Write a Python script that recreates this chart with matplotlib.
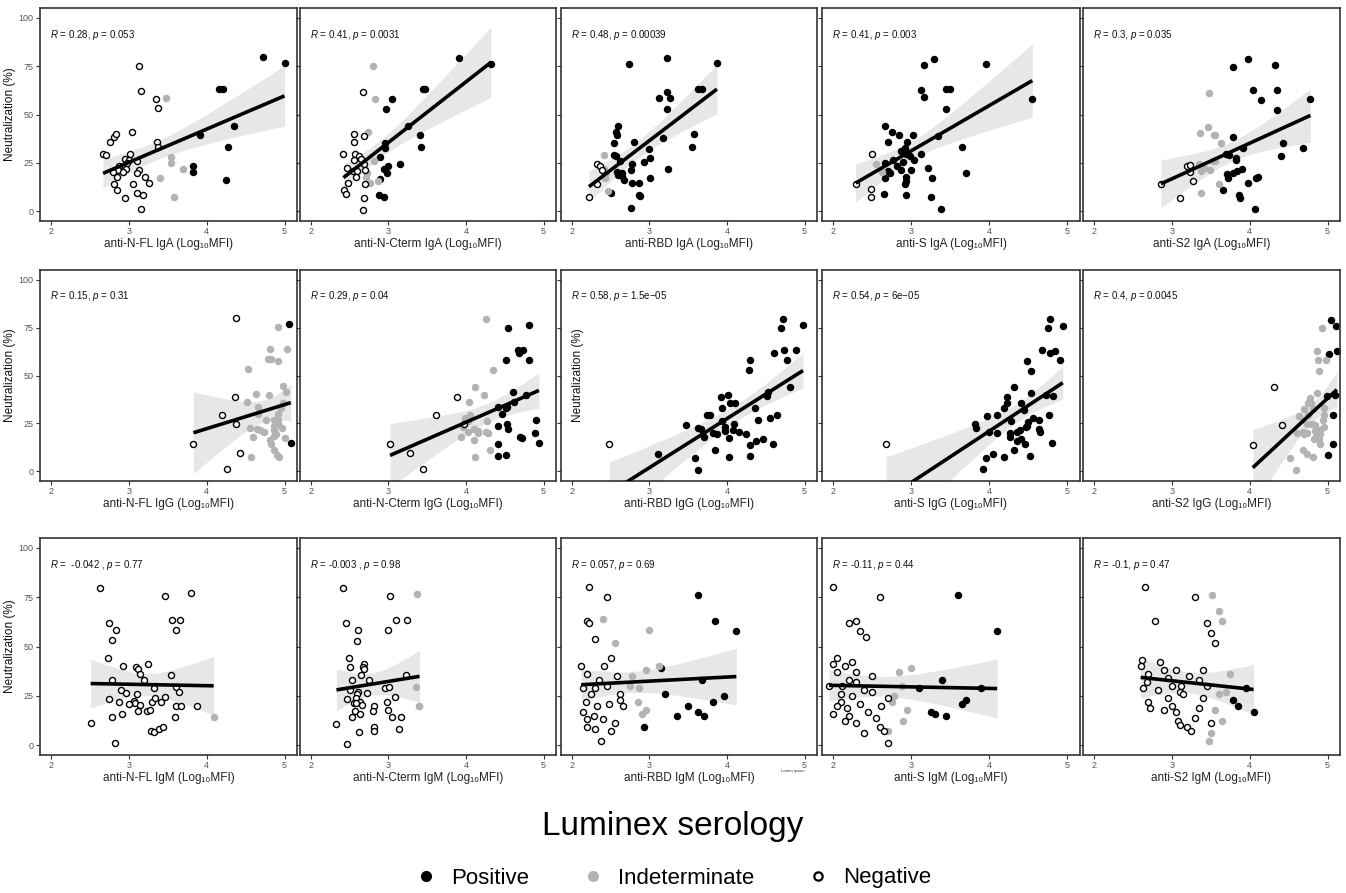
import numpy as np
import matplotlib
matplotlib.use("Agg")
import matplotlib.pyplot as plt
from matplotlib.lines import Line2D

plt.rcParams['font.family'] = ['Liberation Sans', 'DejaVu Sans']
plt.rcParams['mathtext.fontset'] = 'custom'
plt.rcParams['mathtext.rm'] = 'Liberation Sans'
plt.rcParams['mathtext.it'] = 'Liberation Sans:italic'

# ---- data: (log10 MFI, neutralization %, status)  P=positive, I=indeterminate, N=negative ----
nfl_iga = [
    (2.67, 29.8, 'N'), (2.71, 29.1, 'N'), (2.76, 35.9, 'N'), (2.81, 38.6, 'N'), (2.84, 40.0, 'N'),
    (3.13, 75.2, 'N'), (3.16, 61.9, 'N'), (3.04, 41.2, 'N'), (3.35, 58.2, 'N'), (3.37, 53.1, 'N'),
    (3.36, 35.7, 'N'), (3.38, 33.0, 'N'), (3.01, 29.6, 'N'), (2.95, 26.9, 'N'), (3.00, 26.7, 'N'),
    (3.10, 26.0, 'N'), (2.98, 24.7, 'N'), (2.88, 23.5, 'N'), (2.86, 21.4, 'N'), (2.96, 21.8, 'N'),
    (2.93, 20.4, 'N'), (3.13, 21.3, 'N'), (3.11, 19.9, 'N'), (2.80, 20.1, 'N'), (2.85, 17.5, 'N'),
    (3.21, 17.9, 'N'), (3.26, 14.8, 'N'), (3.06, 14.3, 'N'), (2.81, 14.3, 'N'), (2.85, 11.1, 'N'),
    (3.11, 9.4, 'N'), (3.18, 8.3, 'N'), (2.95, 7.0, 'N'), (3.16, 1.0, 'N'),
    (3.48, 58.3, 'I'), (3.54, 28.2, 'I'), (3.54, 24.7, 'I'), (3.70, 22.1, 'I'), (3.40, 17.2, 'I'),
    (3.58, 7.5, 'I'),
    (4.72, 79.6, 'P'), (5.00, 76.5, 'P'), (4.16, 63.4, 'P'), (4.21, 63.3, 'P'), (4.35, 44.0, 'P'),
    (3.92, 39.6, 'P'), (3.83, 23.6, 'P'), (3.82, 20.1, 'P'), (4.27, 33.2, 'P'), (4.25, 16.2, 'P'),
]
ncterm_iga = [
    (3.91, 79.2, 'P'), (4.32, 76.3, 'P'), (3.45, 63.1, 'P'), (3.47, 63.1, 'P'), (3.04, 58.0, 'P'),
    (2.97, 52.9, 'P'), (3.25, 43.9, 'P'), (3.41, 39.3, 'P'), (3.42, 33.1, 'P'), (2.95, 35.3, 'P'),
    (2.95, 32.9, 'P'), (2.89, 28.0, 'P'), (2.99, 23.6, 'P'), (3.15, 24.6, 'P'), (2.94, 21.9, 'P'),
    (2.98, 19.8, 'P'), (2.89, 16.9, 'P'), (2.88, 8.3, 'P'), (2.94, 7.5, 'P'),
    (2.80, 74.9, 'I'), (2.83, 58.0, 'I'), (2.74, 41.0, 'I'), (2.81, 25.9, 'I'), (2.72, 20.0, 'I'),
    (2.71, 17.8, 'I'), (2.86, 15.9, 'I'), (2.76, 14.4, 'I'),
    (2.67, 61.7, 'N'), (2.56, 39.8, 'N'), (2.68, 38.8, 'N'), (2.56, 35.9, 'N'), (2.42, 29.7, 'N'),
    (2.57, 29.7, 'N'), (2.62, 28.8, 'N'), (2.65, 26.8, 'N'), (2.56, 26.3, 'N'), (2.68, 24.2, 'N'),
    (2.47, 22.4, 'N'), (2.54, 20.7, 'N'), (2.60, 21.0, 'N'), (2.70, 21.5, 'N'), (2.58, 17.6, 'N'),
    (2.48, 14.4, 'N'), (2.43, 11.0, 'N'), (2.45, 9.2, 'N'), (2.70, 14.1, 'N'), (2.69, 6.9, 'N'),
    (2.67, 0.8, 'N'),
]
rbd_iga = [
    (3.23, 79.3, 'P'), (3.87, 76.4, 'P'), (2.74, 75.9, 'P'), (3.62, 63.2, 'P'), (3.68, 63.2, 'P'),
    (3.22, 61.7, 'P'), (3.12, 58.3, 'P'), (3.26, 58.3, 'P'), (3.23, 53.0, 'P'), (2.60, 44.0, 'P'),
    (2.57, 41.1, 'P'), (2.58, 39.6, 'P'), (2.54, 35.5, 'P'), (2.80, 35.7, 'P'), (3.57, 40.0, 'P'),
    (3.55, 33.2, 'P'), (3.17, 38.1, 'P'), (2.99, 32.2, 'P'), (3.01, 27.5, 'P'), (2.93, 25.6, 'P'),
    (2.62, 26.1, 'P'), (2.54, 29.0, 'P'), (2.57, 28.7, 'P'), (2.78, 24.3, 'P'), (2.65, 19.7, 'P'),
    (2.58, 20.2, 'P'), (2.59, 18.5, 'P'), (2.76, 21.4, 'P'), (3.24, 22.1, 'P'), (3.01, 17.4, 'P'),
    (2.64, 18.0, 'P'), (2.67, 16.4, 'P'), (2.78, 14.8, 'P'), (2.86, 14.5, 'P'), (2.51, 9.6, 'P'),
    (2.86, 8.6, 'P'), (2.88, 7.8, 'P'), (2.76, 1.5, 'P'),
    (2.42, 29.0, 'I'), (2.42, 21.9, 'I'), (2.43, 17.2, 'I'), (2.46, 10.6, 'I'), (2.44, 19.6, 'I'),
    (2.32, 24.3, 'N'), (2.36, 23.6, 'N'), (2.39, 21.4, 'N'), (2.33, 14.3, 'N'), (2.22, 7.4, 'N'),
]
s_iga = [
    (3.29, 78.8, 'P'), (3.96, 76.0, 'P'), (3.16, 75.6, 'P'), (3.13, 62.5, 'P'), (3.17, 58.8, 'P'),
    (3.45, 63.0, 'P'), (3.50, 63.0, 'P'), (4.55, 58.0, 'P'), (3.45, 52.8, 'P'), (2.66, 43.9, 'P'),
    (2.76, 40.8, 'P'), (2.85, 39.3, 'P'), (3.03, 39.5, 'P'), (2.71, 35.6, 'P'), (2.95, 35.8, 'P'),
    (3.35, 38.8, 'P'), (2.92, 32.8, 'P'), (3.65, 33.1, 'P'), (2.87, 31.4, 'P'), (2.93, 29.7, 'P'),
    (3.12, 29.6, 'P'), (2.99, 28.4, 'P'), (2.77, 26.7, 'P'), (2.89, 25.5, 'P'), (3.04, 26.6, 'P'),
    (2.67, 24.7, 'P'), (2.82, 23.4, 'P'), (3.21, 22.2, 'P'), (2.70, 21.0, 'P'), (3.00, 21.3, 'P'),
    (2.73, 19.8, 'P'), (2.87, 21.5, 'P'), (3.70, 20.0, 'P'), (2.66, 17.3, 'P'), (2.94, 17.5, 'P'),
    (3.27, 17.1, 'P'), (2.94, 15.8, 'P'), (2.92, 14.3, 'P'), (2.65, 9.2, 'P'), (2.93, 8.4, 'P'),
    (3.26, 7.6, 'P'), (3.38, 1.2, 'P'),
    (2.55, 24.4, 'I'), (2.63, 20.5, 'I'),
    (2.50, 29.7, 'N'), (2.29, 14.3, 'N'), (2.49, 11.3, 'N'), (2.49, 7.2, 'N'),
]
s2_iga = [
    (3.98, 78.8, 'P'), (3.78, 74.4, 'P'), (4.33, 75.5, 'P'), (4.04, 62.7, 'P'), (4.35, 62.7, 'P'),
    (4.14, 57.7, 'P'), (4.78, 57.8, 'P'), (4.35, 52.4, 'P'), (3.78, 38.4, 'P'), (4.43, 35.2, 'P'),
    (4.69, 32.7, 'P'), (4.40, 28.8, 'P'), (3.91, 32.5, 'P'), (3.69, 29.5, 'P'), (3.73, 29.2, 'P'),
    (3.82, 27.5, 'P'), (3.82, 26.3, 'P'), (3.90, 21.8, 'P'), (3.78, 19.6, 'P'), (3.84, 20.9, 'P'),
    (3.71, 19.4, 'P'), (3.72, 17.2, 'P'), (3.98, 14.5, 'P'), (4.08, 17.4, 'P'), (4.11, 17.7, 'P'),
    (3.66, 11.0, 'P'), (3.86, 8.3, 'P'), (3.87, 7.1, 'P'), (4.07, 1.0, 'P'),
    (3.48, 61.2, 'I'), (3.46, 43.8, 'I'), (3.36, 40.6, 'I'), (3.54, 39.3, 'I'), (3.56, 39.3, 'I'),
    (3.63, 35.4, 'I'), (3.35, 24.5, 'I'), (3.37, 20.6, 'I'), (3.49, 21.4, 'I'), (3.42, 22.4, 'I'),
    (3.53, 26.0, 'I'), (3.55, 26.0, 'I'), (3.61, 14.0, 'I'), (3.37, 9.3, 'I'),
    (3.20, 23.4, 'N'), (3.23, 24.1, 'N'), (3.24, 20.1, 'N'), (3.27, 15.9, 'N'), (2.86, 14.0, 'N'),
    (3.10, 6.9, 'N'),
]
nfl_igg = [
    (4.38, 79.9, 'N'), (4.36, 39.0, 'N'), (4.20, 29.5, 'N'), (4.38, 24.7, 'N'), (3.83, 14.5, 'N'),
    (4.43, 9.5, 'N'), (4.26, 1.2, 'N'),
    (5.06, 76.8, 'P'), (5.08, 15.0, 'P'),
    (4.91, 75.5, 'I'), (4.81, 63.7, 'I'), (5.03, 63.7, 'I'), (4.79, 58.6, 'I'), (4.82, 58.6, 'I'),
    (4.91, 57.4, 'I'), (4.53, 53.3, 'I'), (4.98, 44.6, 'I'), (5.02, 41.6, 'I'), (4.63, 40.4, 'I'),
    (4.80, 40.0, 'I'), (4.52, 36.3, 'I'), (4.98, 35.8, 'I'), (4.96, 33.2, 'I'), (4.91, 29.8, 'I'),
    (4.66, 30.0, 'I'), (4.76, 26.9, 'I'), (4.86, 26.6, 'I'), (4.92, 26.9, 'I'), (4.56, 22.7, 'I'),
    (4.65, 22.0, 'I'), (4.69, 21.8, 'I'), (4.74, 20.4, 'I'), (4.86, 23.9, 'I'), (4.86, 21.8, 'I'),
    (4.89, 19.4, 'I'), (4.97, 22.7, 'I'), (4.92, 24.7, 'I'), (4.86, 18.4, 'I'), (4.81, 16.5, 'I'),
    (4.59, 17.9, 'I'), (5.01, 17.5, 'I'), (4.83, 14.5, 'I'), (4.87, 11.4, 'I'), (4.57, 7.5, 'I'),
    (4.90, 8.5, 'I'), (4.93, 7.7, 'I'), (4.66, 33.6, 'I'),
]
ncterm_igg = [
    (3.02, 14.5, 'N'), (3.28, 9.5, 'N'), (3.45, 1.2, 'N'), (3.61, 29.2, 'N'), (3.88, 38.7, 'N'),
    (3.97, 24.8, 'N'),
    (4.26, 79.2, 'I'), (4.35, 52.9, 'I'), (4.12, 44.1, 'I'), (4.23, 40.0, 'I'), (4.04, 36.0, 'I'),
    (4.05, 29.6, 'I'), (3.99, 28.0, 'I'), (4.02, 26.5, 'I'), (4.27, 26.4, 'I'), (3.96, 23.0, 'I'),
    (4.03, 20.8, 'I'), (4.10, 22.0, 'I'), (4.16, 21.3, 'I'), (4.15, 19.9, 'I'), (4.26, 20.3, 'I'),
    (4.28, 20.1, 'I'), (3.94, 18.1, 'I'), (4.10, 16.2, 'I'), (4.31, 11.3, 'I'), (4.12, 7.4, 'I'),
    (4.54, 74.8, 'P'), (4.81, 76.2, 'P'), (4.67, 63.3, 'P'), (4.74, 63.2, 'P'), (4.68, 61.5, 'P'),
    (4.51, 58.1, 'P'), (4.81, 58.1, 'P'), (4.60, 41.2, 'P'), (4.77, 39.7, 'P'), (4.62, 36.0, 'P'),
    (4.53, 33.4, 'P'), (4.52, 32.9, 'P'), (4.46, 29.7, 'P'), (4.90, 27.0, 'P'), (4.53, 24.7, 'P'),
    (4.41, 23.6, 'P'), (4.54, 22.3, 'P'), (4.89, 20.1, 'P'), (4.69, 17.9, 'P'), (4.72, 17.6, 'P'),
    (4.94, 14.9, 'P'), (4.41, 14.4, 'P'), (4.41, 7.8, 'P'), (4.51, 8.6, 'P'), (4.41, 33.8, 'P'),
]
rbd_igg = [
    (2.48, 14.2, 'N'),
    (4.72, 79.4, 'P'), (4.69, 75.0, 'P'), (4.98, 76.4, 'P'), (4.74, 63.3, 'P'), (4.89, 63.2, 'P'),
    (4.61, 61.7, 'P'), (4.77, 58.1, 'P'), (4.30, 58.1, 'P'), (4.28, 52.9, 'P'), (4.81, 43.9, 'P'),
    (4.53, 41.4, 'P'), (4.51, 39.5, 'P'), (3.92, 38.7, 'P'), (4.01, 39.9, 'P'), (4.04, 35.8, 'P'),
    (4.10, 35.5, 'P'), (3.93, 32.9, 'P'), (4.36, 32.8, 'P'), (4.64, 29.6, 'P'), (4.56, 27.9, 'P'),
    (3.74, 29.2, 'P'), (3.78, 29.4, 'P'), (4.40, 26.7, 'P'), (3.94, 26.2, 'P'), (4.09, 24.5, 'P'),
    (3.47, 24.2, 'P'), (3.97, 23.3, 'P'), (3.62, 22.6, 'P'), (3.66, 22.0, 'P'), (4.08, 21.8, 'P'),
    (3.98, 21.1, 'P'), (4.15, 20.6, 'P'), (3.82, 19.9, 'P'), (3.87, 19.6, 'P'), (4.25, 19.6, 'P'),
    (3.70, 17.7, 'P'), (4.02, 17.4, 'P'), (4.47, 17.1, 'P'), (4.37, 16.0, 'P'), (4.29, 14.0, 'P'),
    (4.59, 14.5, 'P'), (3.11, 9.1, 'P'), (3.85, 11.1, 'P'), (3.59, 6.9, 'P'), (4.02, 7.4, 'P'),
    (4.30, 8.1, 'P'), (3.63, 0.8, 'P'),
]
s_igg = [
    (2.68, 14.4, 'N'),
    (4.78, 79.2, 'P'), (4.75, 74.6, 'P'), (4.94, 75.9, 'P'), (4.67, 63.1, 'P'), (4.84, 62.9, 'P'),
    (4.78, 61.5, 'P'), (4.48, 57.8, 'P'), (4.90, 58.0, 'P'), (4.53, 52.5, 'P'), (4.32, 43.9, 'P'),
    (4.53, 41.0, 'P'), (4.23, 38.6, 'P'), (4.41, 35.6, 'P'), (4.22, 35.8, 'P'), (4.19, 33.1, 'P'),
    (4.72, 40.0, 'P'), (4.81, 39.2, 'P'), (4.44, 32.2, 'P'), (3.97, 29.0, 'P'), (4.10, 29.5, 'P'),
    (4.28, 26.4, 'P'), (4.56, 28.0, 'P'), (4.63, 26.9, 'P'), (4.49, 25.9, 'P'), (3.82, 24.6, 'P'),
    (3.83, 22.5, 'P'), (4.76, 29.5, 'P'), (4.48, 23.7, 'P'), (4.47, 23.1, 'P'), (4.64, 22.2, 'P'),
    (4.65, 20.3, 'P'), (4.10, 19.8, 'P'), (4.26, 20.0, 'P'), (4.39, 21.4, 'P'), (4.35, 20.8, 'P'),
    (4.26, 17.8, 'P'), (4.35, 16.1, 'P'), (4.41, 17.1, 'P'), (4.46, 14.1, 'P'), (4.80, 14.6, 'P'),
    (4.31, 11.0, 'P'), (4.05, 9.2, 'P'), (3.96, 7.1, 'P'), (4.19, 7.5, 'P'), (4.52, 8.1, 'P'),
    (3.92, 1.0, 'P'), (4.00, 20.7, 'P'),
]
s2_igg = [
    (4.04, 14.0, 'N'), (4.31, 43.8, 'N'), (4.42, 24.2, 'N'),
    (5.05, 79.1, 'P'), (5.11, 75.8, 'P'), (5.12, 62.7, 'P'), (5.02, 61.1, 'P'), (4.99, 39.2, 'P'),
    (5.10, 39.9, 'P'), (5.07, 29.2, 'P'), (5.07, 14.5, 'P'), (5.01, 8.3, 'P'),
    (4.93, 74.7, 'I'), (4.86, 63.0, 'I'), (4.88, 57.9, 'I'), (4.98, 57.9, 'I'), (4.89, 52.5, 'I'),
    (4.86, 40.9, 'I'), (4.78, 38.3, 'I'), (4.75, 35.5, 'I'), (4.79, 35.5, 'I'), (4.70, 32.6, 'I'),
    (4.81, 32.6, 'I'), (4.63, 29.1, 'I'), (4.75, 29.2, 'I'), (4.96, 32.8, 'I'), (4.96, 29.6, 'I'),
    (4.94, 27.0, 'I'), (4.68, 27.0, 'I'), (4.74, 24.5, 'I'), (4.84, 24.0, 'I'), (4.96, 23.3, 'I'),
    (4.68, 20.3, 'I'), (4.70, 19.6, 'I'), (4.61, 19.8, 'I'), (4.74, 19.9, 'I'), (4.84, 21.3, 'I'),
    (4.85, 17.7, 'I'), (4.89, 17.1, 'I'), (4.83, 16.9, 'I'), (4.90, 14.2, 'I'), (4.90, 19.3, 'I'),
    (4.80, 24.5, 'I'), (4.68, 11.0, 'I'), (4.73, 9.1, 'I'), (4.81, 7.4, 'I'), (4.52, 7.1, 'I'),
    (4.60, 0.8, 'I'), (4.90, 21.6, 'I'),
]
nfl_igm = [
    (2.63, 79.9, 'N'), (3.80, 76.9, 'N'), (3.47, 75.5, 'N'), (2.75, 61.9, 'N'), (3.56, 63.6, 'N'),
    (3.66, 63.6, 'N'), (2.84, 58.5, 'N'), (3.60, 58.5, 'N'), (2.79, 53.1, 'N'), (2.73, 44.2, 'N'),
    (3.25, 41.3, 'N'), (2.93, 40.0, 'N'), (3.09, 39.6, 'N'), (3.12, 38.8, 'N'), (3.15, 36.1, 'N'),
    (3.54, 35.7, 'N'), (2.78, 33.2, 'N'), (3.19, 32.8, 'N'), (3.32, 28.9, 'N'), (2.90, 28.1, 'N'),
    (3.61, 29.3, 'N'), (3.65, 26.9, 'N'), (2.97, 26.4, 'N'), (3.11, 26.0, 'N'), (2.74, 23.6, 'N'),
    (3.07, 22.6, 'N'), (2.87, 21.8, 'N'), (3.08, 21.3, 'N'), (3.30, 21.9, 'N'), (3.15, 20.4, 'N'),
    (3.00, 20.6, 'N'), (3.34, 24.1, 'N'), (3.47, 24.5, 'N'), (3.42, 21.9, 'N'), (3.61, 19.6, 'N'),
    (3.67, 19.7, 'N'), (3.88, 19.9, 'N'), (3.12, 17.3, 'N'), (3.23, 17.5, 'N'), (3.27, 17.7, 'N'),
    (2.91, 16.0, 'N'), (2.78, 14.1, 'N'), (3.59, 14.1, 'N'), (2.51, 11.1, 'N'), (3.29, 7.3, 'N'),
    (3.33, 6.8, 'N'), (3.39, 8.3, 'N'), (3.44, 9.0, 'N'), (2.82, 0.9, 'N'),
    (4.09, 14.5, 'I'),
]
ncterm_igm = [
    (2.42, 79.9, 'N'), (3.02, 75.5, 'N'), (2.45, 61.7, 'N'), (3.10, 63.5, 'N'), (3.24, 63.5, 'N'),
    (2.61, 58.3, 'N'), (2.99, 58.3, 'N'), (2.60, 53.0, 'N'), (2.49, 44.1, 'N'), (2.51, 39.8, 'N'),
    (2.69, 41.3, 'N'), (2.67, 39.5, 'N'), (2.68, 38.6, 'N'), (2.65, 35.8, 'N'), (3.23, 35.7, 'N'),
    (2.53, 32.9, 'N'), (2.75, 32.9, 'N'), (2.50, 28.0, 'N'), (2.61, 26.9, 'N'), (2.60, 25.7, 'N'),
    (2.72, 26.2, 'N'), (2.95, 28.8, 'N'), (3.01, 29.3, 'N'), (3.09, 24.4, 'N'), (2.46, 23.5, 'N'),
    (2.58, 24.0, 'N'), (2.55, 21.4, 'N'), (2.63, 21.8, 'N'), (2.66, 20.2, 'N'), (2.81, 19.7, 'N'),
    (2.98, 22.0, 'N'), (2.57, 17.3, 'N'), (2.63, 16.0, 'N'), (2.80, 17.2, 'N'), (2.99, 17.7, 'N'),
    (2.53, 14.1, 'N'), (3.04, 14.1, 'N'), (3.16, 14.4, 'N'), (2.33, 10.8, 'N'), (2.62, 6.9, 'N'),
    (2.82, 9.4, 'N'), (2.82, 7.4, 'N'), (3.14, 8.1, 'N'), (2.46, 0.7, 'N'), (2.58, 21.4, 'N'),
    (3.37, 76.7, 'I'), (3.35, 29.5, 'I'), (3.39, 19.6, 'I'), (3.40, 19.6, 'I'),
]
rbd_igm = [
    (2.22, 80.0, 'N'), (2.45, 75.0, 'N'), (2.20, 63.0, 'N'), (2.22, 62.0, 'N'), (2.30, 54.0, 'N'),
    (2.12, 40.0, 'N'), (2.20, 36.0, 'N'), (2.35, 33.0, 'N'), (2.30, 29.0, 'N'), (2.50, 44.0, 'N'),
    (2.42, 40.0, 'N'), (2.25, 26.0, 'N'), (2.18, 22.0, 'N'), (2.33, 20.0, 'N'), (2.15, 17.0, 'N'),
    (2.28, 15.0, 'N'), (2.40, 13.0, 'N'), (2.55, 11.0, 'N'), (2.50, 7.0, 'N'), (2.20, 9.0, 'N'),
    (2.38, 2.0, 'N'), (2.62, 26.0, 'N'), (2.62, 23.0, 'N'), (2.45, 30.0, 'N'), (2.66, 20.0, 'N'),
    (2.14, 29.0, 'N'), (2.30, 8.0, 'N'), (2.48, 21.0, 'N'), (2.20, 13.0, 'N'), (2.58, 35.0, 'N'),
    (2.40, 64.0, 'I'), (3.00, 58.5, 'I'), (2.95, 38.0, 'I'), (2.78, 35.0, 'I'), (2.86, 29.0, 'I'),
    (2.85, 22.0, 'I'), (2.96, 18.0, 'I'), (2.90, 16.0, 'I'), (2.55, 52.0, 'I'), (2.75, 30.0, 'I'),
    (3.12, 40.0, 'I'),
    (3.62, 76.0, 'P'), (3.85, 63.0, 'P'), (4.12, 58.0, 'P'), (3.68, 33.0, 'P'), (3.15, 39.0, 'P'),
    (3.50, 20.0, 'P'), (3.35, 15.0, 'P'), (3.63, 17.0, 'P'), (2.93, 9.0, 'P'), (3.82, 22.0, 'P'),
    (3.96, 25.0, 'P'), (3.20, 26.0, 'P'), (3.70, 15.0, 'P'),
]
s_igm = [
    (2.00, 80.0, 'N'), (2.20, 62.0, 'N'), (2.30, 63.0, 'N'), (2.35, 58.0, 'N'), (2.42, 55.0, 'N'),
    (2.60, 75.0, 'N'), (2.05, 44.0, 'N'), (2.00, 41.0, 'N'), (2.25, 42.0, 'N'), (2.15, 40.0, 'N'),
    (2.30, 37.0, 'N'), (2.05, 37.0, 'N'), (2.20, 33.0, 'N'), (2.12, 30.0, 'N'), (1.95, 30.0, 'N'),
    (2.40, 28.0, 'N'), (2.25, 25.0, 'N'), (2.10, 22.0, 'N'), (2.05, 20.0, 'N'), (2.18, 19.0, 'N'),
    (2.35, 21.0, 'N'), (2.45, 17.0, 'N'), (2.00, 16.0, 'N'), (2.20, 15.0, 'N'), (2.55, 14.0, 'N'),
    (2.30, 11.0, 'N'), (2.60, 9.0, 'N'), (2.65, 7.0, 'N'), (2.40, 6.0, 'N'), (2.70, 1.0, 'N'),
    (2.50, 27.0, 'N'), (2.10, 26.0, 'N'), (2.50, 35.0, 'N'), (2.30, 32.0, 'N'), (2.62, 20.0, 'N'),
    (2.15, 12.0, 'N'), (2.70, 24.0, 'N'),
    (3.00, 39.0, 'I'), (2.85, 37.0, 'I'), (2.75, 22.0, 'I'), (2.88, 30.0, 'I'), (2.70, 7.0, 'I'),
    (2.95, 18.0, 'I'), (2.78, 25.0, 'I'), (2.90, 12.0, 'I'),
    (3.60, 76.0, 'P'), (4.10, 58.0, 'P'), (3.65, 21.0, 'P'), (3.70, 23.0, 'P'), (3.25, 17.0, 'P'),
    (3.30, 16.0, 'P'), (3.45, 15.0, 'P'), (3.90, 29.0, 'P'), (3.10, 29.0, 'P'), (3.40, 33.0, 'P'),
]
s2_igm = [
    (2.65, 80.0, 'N'), (2.78, 63.0, 'N'), (2.62, 43.0, 'N'), (2.60, 40.0, 'N'), (2.70, 36.0, 'N'),
    (2.68, 32.0, 'N'), (2.63, 29.0, 'N'), (2.70, 22.0, 'N'), (2.72, 19.0, 'N'), (2.85, 42.0, 'N'),
    (2.90, 38.0, 'N'), (2.95, 34.0, 'N'), (3.00, 30.0, 'N'), (3.05, 38.0, 'N'), (3.10, 27.0, 'N'),
    (3.15, 26.0, 'N'), (2.95, 24.0, 'N'), (3.00, 20.0, 'N'), (3.05, 17.0, 'N'), (3.08, 12.0, 'N'),
    (3.10, 10.0, 'N'), (3.20, 9.0, 'N'), (3.25, 7.0, 'N'), (3.30, 14.0, 'N'), (3.35, 19.0, 'N'),
    (3.40, 24.0, 'N'), (3.45, 30.0, 'N'), (3.30, 75.0, 'N'), (3.45, 62.0, 'N'), (3.50, 57.0, 'N'),
    (3.55, 52.0, 'N'), (3.35, 33.0, 'N'), (3.22, 35.0, 'N'), (2.82, 28.0, 'N'), (3.12, 30.0, 'N'),
    (3.50, 11.0, 'N'), (2.90, 18.0, 'N'), (3.40, 38.0, 'N'),
    (3.52, 76.0, 'I'), (3.60, 68.0, 'I'), (3.65, 63.0, 'I'), (3.75, 36.0, 'I'), (3.60, 26.0, 'I'),
    (3.55, 18.0, 'I'), (3.50, 6.0, 'I'), (3.48, 2.0, 'I'), (3.70, 27.0, 'I'), (3.65, 12.0, 'I'),
    (4.05, 17.0, 'P'), (3.95, 29.0, 'P'), (3.85, 20.0, 'P'), (3.78, 23.0, 'P'),
]

panel_data = [
    [nfl_iga, ncterm_iga, rbd_iga, s_iga, s2_iga],
    [nfl_igg, ncterm_igg, rbd_igg, s_igg, s2_igg],
    [nfl_igm, ncterm_igm, rbd_igm, s_igm, s2_igm],
]
antigens = ['anti-N-FL', 'anti-N-Cterm', 'anti-RBD', 'anti-S', 'anti-S2']
isotypes = ['IgA', 'IgG', 'IgM']
stats_text = [
    ['0.28, $p$ = 0.053', '0.41, $p$ = 0.0031', '0.48, $p$ = 0.00039', '0.41, $p$ = 0.003', '0.3, $p$ = 0.035'],
    ['0.15, $p$ = 0.31', '0.29, $p$ = 0.04', '0.58, $p$ = 1.5e\u221205', '0.54, $p$ = 6e\u221205', '0.4, $p$ = 0.0045'],
    [' -0.042 , $p$ = 0.77', '-0.003 , $p$ = 0.98', '0.057, $p$ = 0.69', '-0.11, $p$ = 0.44', '-0.1, $p$ = 0.47'],
]
yticks = [0, 25, 50, 75, 100]
xticks = [2, 3, 4, 5]

# ---- layout (pixels) ----
W, H = 1346, 893
col_px = [(40, 297), (300, 556), (561, 817), (822, 1080), (1083, 1340)]
row_px = [(8, 221), (270, 481), (538, 755)]
colors = {'P': 'black', 'I': '#b3b3b3', 'N': 'white'}
edges = {'P': 'black', 'I': '#b3b3b3', 'N': 'black'}
T_CRIT = 2.01

fig = plt.figure(figsize=(W / 100, H / 100), dpi=100)

for r, (top, bot) in enumerate(row_px):
    for c, (left, right) in enumerate(col_px):
        ax = fig.add_axes([left / W, 1 - bot / H, (right - left) / W, (bot - top) / H])
        pts = panel_data[r][c]
        x = np.array([p[0] for p in pts])
        y = np.array([p[1] for p in pts])
        st = np.array([p[2] for p in pts])

        # linear fit with 95% confidence band
        b, a = np.polyfit(x, y, 1)
        n = len(x)
        resid = y - (a + b * x)
        s = np.sqrt(np.sum(resid ** 2) / (n - 2))
        xs = np.linspace(x.min(), x.max(), 100)
        ys = a + b * xs
        se = s * np.sqrt(1 / n + (xs - x.mean()) ** 2 / np.sum((x - x.mean()) ** 2))
        ax.fill_between(xs, ys - T_CRIT * se, ys + T_CRIT * se, color='#e6e7e7', lw=0, zorder=1)

        for k in ['P', 'I', 'N']:
            m = st == k
            ax.scatter(x[m], y[m], s=19, c=colors[k], edgecolors=edges[k], linewidths=1.0, zorder=2)
        ax.plot(xs, ys, color='black', lw=2.6, zorder=3, solid_capstyle='butt')

        ax.set_xlim(1.86, 5.16)
        ax.set_ylim(-5, 105)
        ax.set_xticks(xticks)
        ax.set_yticks(yticks)
        ax.tick_params(direction='out', length=3, width=0.8, colors='#333333',
                       labelsize=6.5, labelcolor='#555555', pad=1.5)
        if c > 0:
            ax.tick_params(labelleft=False)
        else:
            ax.set_ylabel('Neutralization (%)', fontsize=8.5, color='#111111', labelpad=2)
        for sp in ax.spines.values():
            sp.set_color('#333333')
            sp.set_linewidth(1.2)
        ax.set_xlabel(f'{antigens[c]} {isotypes[r]} (Log\u2081\u2080MFI)', fontsize=8.5,
                      color='#222222', labelpad=1)
        ax.text(0.04, 0.875, '$R$ = ' + stats_text[r][c], transform=ax.transAxes,
                fontsize=7, va='center', ha='left', color='#111111')

# stray labels present in the original figure
fig.text(578 / W, 1 - 375 / H, 'Neutralization (%)', rotation=90, fontsize=8.5,
         color='#111111', ha='center', va='center')
fig.text(793 / W, 1 - 771 / H, 'Lorem ipsum', fontsize=3, color='#333333', ha='center', va='center')

fig.text(0.5, 1 - 826 / H, 'Luminex serology', fontsize=24, ha='center', va='center', color='black')

handles = [
    Line2D([], [], ls='', marker='o', ms=7, mfc='black', mec='black'),
    Line2D([], [], ls='', marker='o', ms=7, mfc='#b3b3b3', mec='#b3b3b3'),
    Line2D([], [], ls='', marker='o', ms=6, mfc='white', mec='black', mew=1.6),
]
fig.legend(handles, ['Positive', 'Indeterminate', 'Negative'], loc='center',
           bbox_to_anchor=(0.5, 1 - 878 / H), ncol=3, frameon=False, fontsize=16,
           handletextpad=0.6, columnspacing=2.4, handlelength=1.0)

fig.savefig('out.png', dpi=100, facecolor='white')
